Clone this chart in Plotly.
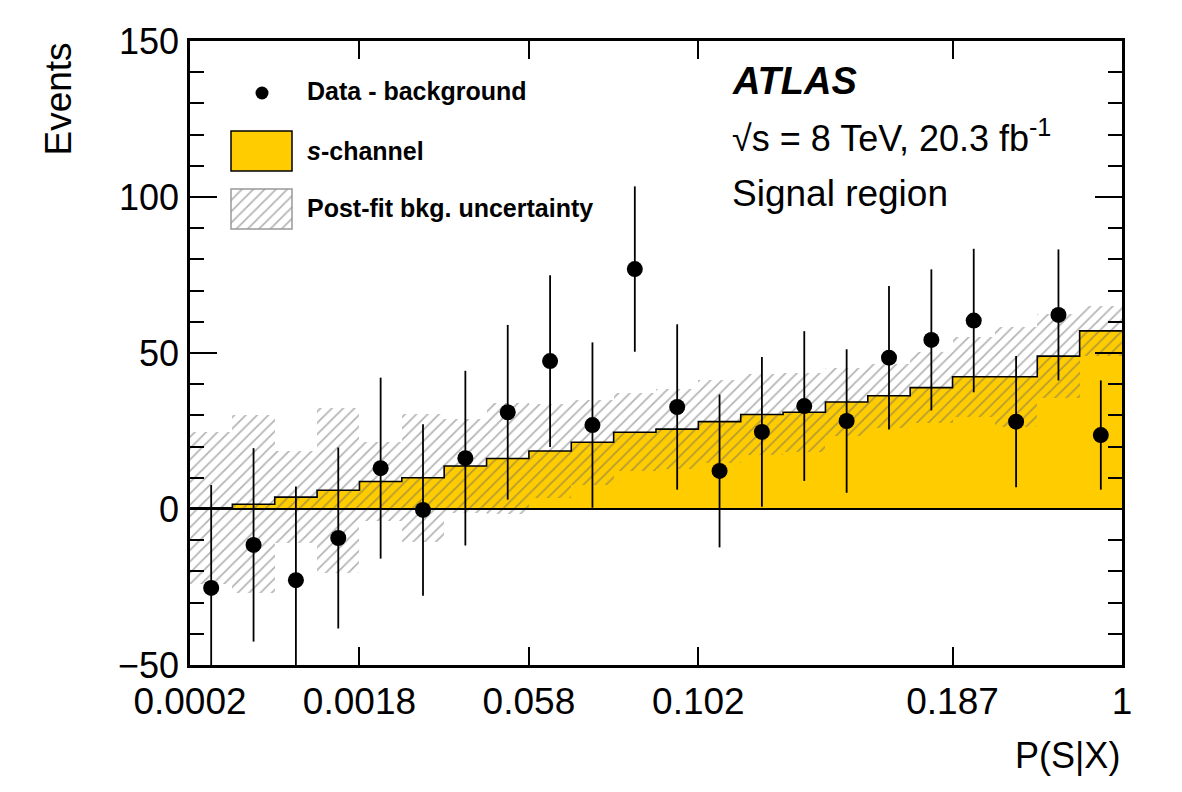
import plotly.graph_objects as go

# ---------------- data ----------------
bin_index = list(range(22))
tick_positions = [0, 4, 8, 12, 18, 22]
tick_labels = ["0.0002", "0.0018", "0.058", "0.102", "0.187", "1"]

signal = [0.4, 1.5, 3.8, 6.0, 8.8, 10.0, 13.8, 16.2, 18.6, 21.4, 24.6,
          25.6, 28.0, 30.3, 31.0, 34.3, 36.3, 38.9, 42.4, 42.4, 49.0, 57.1]
bkg_unc = [24.3, 28.5, 14.7, 26.4, 12.8, 20.6, 15.0, 17.7, 15.0, 13.6, 12.5,
           12.8, 13.3, 13.1, 12.6, 10.9, 10.2, 11.3, 12.8, 16.0, 13.5, 8.0]
data_minus_bkg = [-25.3, -11.5, -22.8, -9.3, 13.1, -0.3, 16.3, 31.0, 47.4, 26.9, 76.9,
                  32.7, 12.2, 24.7, 33.0, 28.2, 48.5, 54.2, 60.4, 28.0, 62.2, 23.7]
data_err = [33.0, 31.0, 30.0, 29.0, 29.0, 27.5, 28.0, 28.0, 27.5, 26.5, 26.5,
            26.5, 24.5, 24.0, 24.0, 23.0, 23.0, 22.6, 23.0, 21.0, 21.0, 17.5]

centers = [i + 0.5 for i in bin_index]
edges = bin_index + [len(bin_index)]

YELLOW = "#ffcc00"
HATCH = "#6a6a6a"
FONT = "Liberation Sans, Arial, Helvetica, sans-serif"
HATCH_PATTERN = dict(shape="/", fgcolor=HATCH, size=8, solidity=0.22, fillmode="overlay")

fig = go.Figure()

# s-channel filled histogram
fig.add_trace(go.Bar(x=centers, y=signal, width=1.0, marker=dict(color=YELLOW, line=dict(width=0)),
                     showlegend=False, hoverinfo="skip"))
# outline of the histogram
fig.add_trace(go.Scatter(x=edges, y=signal + [signal[-1]], mode="lines",
                         line=dict(color="black", width=1.6, shape="hv"),
                         showlegend=False, hoverinfo="skip"))
# hatched background uncertainty band around the signal
fig.add_trace(go.Bar(x=centers, y=[2 * u for u in bkg_unc],
                     base=[s - u for s, u in zip(signal, bkg_unc)], width=1.0,
                     marker=dict(color="rgba(0,0,0,0)", line=dict(width=0), pattern=HATCH_PATTERN),
                     showlegend=False, hoverinfo="skip"))
# data points
fig.add_trace(go.Scatter(x=centers, y=data_minus_bkg, mode="markers",
                         marker=dict(color="black", size=16),
                         error_y=dict(type="data", array=data_err, color="black", thickness=1.8, width=0),
                         showlegend=False))

# zero line
fig.add_hline(y=0, line=dict(color="black", width=2))

# ---------------- legend (hand drawn) ----------------
PL, PR, PT, PB = 190, 1122, 41, 665
def px(x):
    return (x - PL) / (PR - PL)
def py(y):
    return (PB - y) / (PB - PT)

# hatched legend swatch uses its own tiny axes so the pattern matches
fig.add_trace(go.Bar(x=[0.5], y=[1], width=1.0, xaxis="x2", yaxis="y2",
                     marker=dict(color="rgba(0,0,0,0)", line=dict(width=0), pattern=HATCH_PATTERN),
                     showlegend=False, hoverinfo="skip"))

shapes = []
shapes.append(dict(type="circle", xref="paper", yref="paper", xsizemode="pixel", ysizemode="pixel",
                   xanchor=px(262), yanchor=py(93), x0=-6.5, x1=6.5, y0=-6.5, y1=6.5,
                   fillcolor="black", line=dict(width=0)))
shapes.append(dict(type="rect", xref="paper", yref="paper", x0=px(231), x1=px(292), y0=py(171), y1=py(131),
                   fillcolor=YELLOW, line=dict(color="black", width=1.5)))
shapes.append(dict(type="rect", xref="paper", yref="paper", x0=px(231), x1=px(292), y0=py(229), y1=py(189),
                   fillcolor="rgba(0,0,0,0)", line=dict(color="#999999", width=1.5)))
for s in shapes:
    fig.add_shape(**s)

legend_font = dict(family=FONT, size=25, color="black")
fig.add_annotation(x=px(305), y=py(91), xref="paper", yref="paper", xanchor="left", yanchor="middle",
                   text="<b>Data - background</b>", showarrow=False, font=legend_font)
fig.add_annotation(x=px(305), y=py(151), xref="paper", yref="paper", xanchor="left", yanchor="middle",
                   text="<b><i>s</i>-channel</b>", showarrow=False, font=legend_font)
fig.add_annotation(x=px(305), y=py(208), xref="paper", yref="paper", xanchor="left", yanchor="middle",
                   text="<b>Post-fit bkg. uncertainty</b>", showarrow=False, font=legend_font)

# ATLAS labels
fig.add_annotation(x=px(730), y=py(81), xref="paper", yref="paper", xanchor="left", yanchor="middle",
                   text="<b><i>ATLAS</i></b>", showarrow=False, font=dict(family=FONT, size=38, color="black"))
fig.add_annotation(x=px(730), y=py(136), xref="paper", yref="paper", xanchor="left", yanchor="middle",
                   text="√s = 8 TeV, 20.3 fb<sup>-1</sup>", showarrow=False,
                   font=dict(family=FONT, size=36, color="black"))
fig.add_annotation(x=px(730), y=py(193), xref="paper", yref="paper", xanchor="left", yanchor="middle",
                   text="Signal region", showarrow=False, font=dict(family=FONT, size=37, color="black"))

# axis titles
fig.add_annotation(x=px(58), y=1.0, xref="paper", yref="paper", xanchor="center", yanchor="top",
                   text="Events", textangle=-90, showarrow=False, font=dict(family=FONT, size=37, color="black"))
fig.add_annotation(x=1.0, y=py(755), xref="paper", yref="paper", xanchor="right", yanchor="middle",
                   text="P(S|X)", showarrow=False, font=dict(family=FONT, size=36, color="black"))

fig.update_layout(
    width=1182, height=792,
    margin=dict(l=PL, r=1182 - PR, t=PT, b=792 - PB),
    plot_bgcolor="white", paper_bgcolor="white",
    barmode="overlay", bargap=0,
    font=dict(family=FONT, color="black"),
    showlegend=False,
    xaxis=dict(range=[0, 22], tickmode="array", tickvals=tick_positions, ticktext=tick_labels,
               ticks="inside", ticklen=18, tickwidth=1.5, tickcolor="black",
               showline=True, linecolor="black", linewidth=2.5, mirror="allticks",
               showgrid=False, zeroline=False, tickfont=dict(size=37, family=FONT),
               ticklabelstandoff=2),
    yaxis=dict(range=[-50, 150], tickmode="linear", tick0=0, dtick=50,
               ticks="inside", ticklen=27, tickwidth=1.5, tickcolor="black",
               minor=dict(dtick=10, ticks="inside", ticklen=14, tickwidth=1.5, tickcolor="black"),
               showline=True, linecolor="black", linewidth=2.5, mirror="allticks",
               showgrid=False, zeroline=False, tickfont=dict(size=36, family=FONT),
               ticklabelstandoff=1),
    xaxis2=dict(domain=[px(231), px(292)], range=[0, 1], visible=False, anchor="y2", fixedrange=True),
    yaxis2=dict(domain=[py(229), py(189)], range=[0, 1], visible=False, anchor="x2", fixedrange=True),
)

fig.write_html("out.html")
